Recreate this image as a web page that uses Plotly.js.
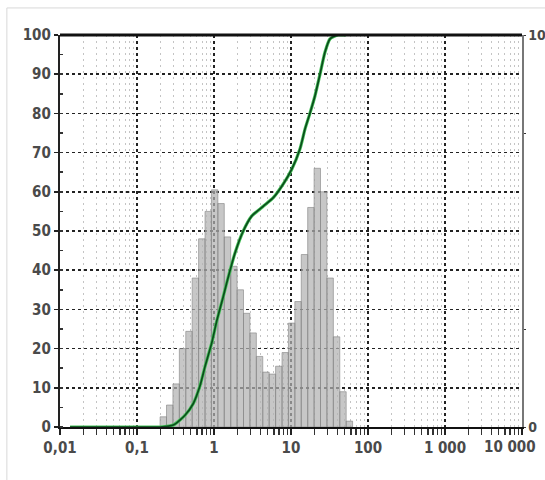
<!DOCTYPE html>
<html>
<head>
<meta charset="utf-8">
<script src="https://cdn.plot.ly/plotly-3.0.1.min.js"></script>
<style>html,body{margin:0;padding:0;background:#fff;}#chart{width:545px;height:480px;}</style>
</head>
<body>
<div id="chart"></div>
<script>
// Bin edges (µm) of the size-distribution histogram
const binEdges = [0.1995, 0.2416, 0.2928, 0.3548, 0.4299, 0.5208, 0.631, 0.7644, 0.9261, 1.122,
  1.359, 1.647, 1.995, 2.416, 2.928, 3.548, 4.299, 5.208, 6.310, 7.644,
  9.261, 11.22, 13.59, 16.47, 19.95, 24.16, 29.28, 35.48, 42.99, 52.08, 63.1];
// Volume % per bin (right axis, 0-10)
const binVolume = [0.26, 0.56, 1.1, 2.0, 2.44, 3.8, 4.8, 5.5, 6.05, 5.7,
  4.85, 4.1, 3.5, 2.9, 2.4, 1.8, 1.4, 1.35, 1.55, 1.9,
  2.65, 3.2, 4.4, 5.6, 6.6, 6.0, 3.8, 2.3, 0.9, 0.15];
// Cumulative curve (left axis, 0-100)
const cumSize = [0.0135, 0.1, 0.2, 0.296, 0.42, 0.539, 0.658, 0.764, 0.933, 1.084, 1.32, 1.46, 1.875,
  2.40, 3.09, 4.36, 5.89, 7.94, 10.2, 13.1, 15.2, 17.6, 20.5, 23.8, 27.6, 32.1, 40.7, 52];
const cumValue = [0, 0, 0, 0.5, 3, 6, 10.5, 15.4, 21.4, 27, 33.3, 36.7, 44.4,
  50, 53.8, 56.3, 58.5, 62, 65.7, 71, 76, 80, 84.5, 90, 95.6, 99, 100, 100];
// Axis labels
const xTickVals = [0.01, 0.1, 1, 10, 100, 1000, 10000];
const xTickText = ['0,01', '0,1', '1', '10', '100', '1 000', ''];
const xLastLabel = '10 000';
const leftTickVals = [0, 10, 20, 30, 40, 50, 60, 70, 80, 90, 100];
const rightTickVals = [0, 2.5, 7.5, 10];
const rightTickText = ['0', '', '', '10'];

const bx = [], by = [];
for (let i = 0; i < binVolume.length; i++) {
  const a = binEdges[i], b = binEdges[i + 1], h = binVolume[i];
  bx.push(a, a, b, b, a, null);
  by.push(0, h, h, 0, 0, null);
}

const FONT = 'DejaVu Sans Condensed, Liberation Sans Narrow, Arial Narrow, Arial, sans-serif';
const TF = {family: FONT, size: 15, color: '#4a4a4a', weight: 'bold'};

const traces = [
  {x: bx, y: by, xaxis: 'x', yaxis: 'y', type: 'scatter', mode: 'lines', fill: 'toself',
   fillcolor: 'rgba(178,178,178,0.72)', line: {color: 'rgba(135,135,135,0.8)', width: 0.8},
   hoverinfo: 'skip', showlegend: false},
  {x: cumSize, y: cumValue, xaxis: 'x', yaxis: 'y2', type: 'scatter', mode: 'lines',
   line: {color: '#46c25a', width: 3.2, shape: 'spline', smoothing: 0.6}, showlegend: false},
  {x: cumSize, y: cumValue, xaxis: 'x', yaxis: 'y2', type: 'scatter', mode: 'lines',
   line: {color: '#0b4d1c', width: 1.7, shape: 'spline', smoothing: 0.6}, showlegend: false}
];

const layout = {
  width: 545, height: 480,
  margin: {l: 60, r: 23, t: 35, b: 53},
  paper_bgcolor: '#fff', plot_bgcolor: '#fff',
  showlegend: false,
  font: {family: FONT, size: 14, color: '#333'},
  xaxis: {
    type: 'log', range: [-2, 4],
    tickmode: 'array', tickvals: xTickVals, ticktext: xTickText,
    ticks: 'outside', ticklen: 6, tickwidth: 1.5, tickcolor: '#222',
    showline: true, linecolor: '#111', linewidth: 2,
    showgrid: true, gridcolor: '#222', gridwidth: 1.5, griddash: '3px,3px',
    zeroline: false,
    tickfont: TF,
    minor: {dtick: 'D1', ticks: 'outside', ticklen: 6, tickwidth: 1.2, tickcolor: '#333',
            showgrid: true, gridcolor: '#c4c4c4', gridwidth: 1, griddash: '2px,4px'}
  },
  yaxis: {
    range: [0, 10], side: 'right',
    tickmode: 'array', tickvals: rightTickVals, ticktext: rightTickText,
    ticks: 'outside', ticklen: 2, tickcolor: '#333',
    showline: true, linecolor: '#777', linewidth: 1.5,
    showgrid: false, zeroline: false,
    tickfont: {family: FONT, size: 14, color: '#4a4a4a', weight: 'bold'}
  },
  yaxis2: {
    range: [0, 100], side: 'left', overlaying: 'y',
    tickmode: 'array', tickvals: leftTickVals,
    ticks: 'outside', ticklen: 4, tickwidth: 1.5, tickcolor: '#222',
    showline: true, linecolor: '#222', linewidth: 2.2,
    showgrid: true, gridcolor: '#222', gridwidth: 1.5, griddash: '3px,3px',
    zeroline: false,
    tickfont: TF,
    minor: {dtick: 5, ticks: 'inside', ticklen: 3, tickcolor: '#333', showgrid: false}
  },
  annotations: [
    {text: xLastLabel, xref: 'paper', yref: 'paper', x: 1.035, y: 0, xanchor: 'right',
     yanchor: 'top', yshift: -9, showarrow: false, font: TF}
  ],
  shapes: [
    {type: 'line', xref: 'paper', yref: 'paper', x0: 0, x1: 1, y0: 1, y1: 1,
     line: {color: '#111', width: 3}},
    {type: 'line', xref: 'paper', yref: 'paper', x0: -0.115, x1: 1.1, y0: 1.069, y1: 1.069,
     line: {color: '#d8d8d8', width: 1}},
    {type: 'line', xref: 'paper', yref: 'paper', x0: -0.115, x1: -0.115, y0: 1.069, y1: -0.2,
     line: {color: '#d8d8d8', width: 1}}
  ]
};

Plotly.newPlot('chart', traces, layout, {staticPlot: true, displayModeBar: false});
</script>
</body>
</html>
